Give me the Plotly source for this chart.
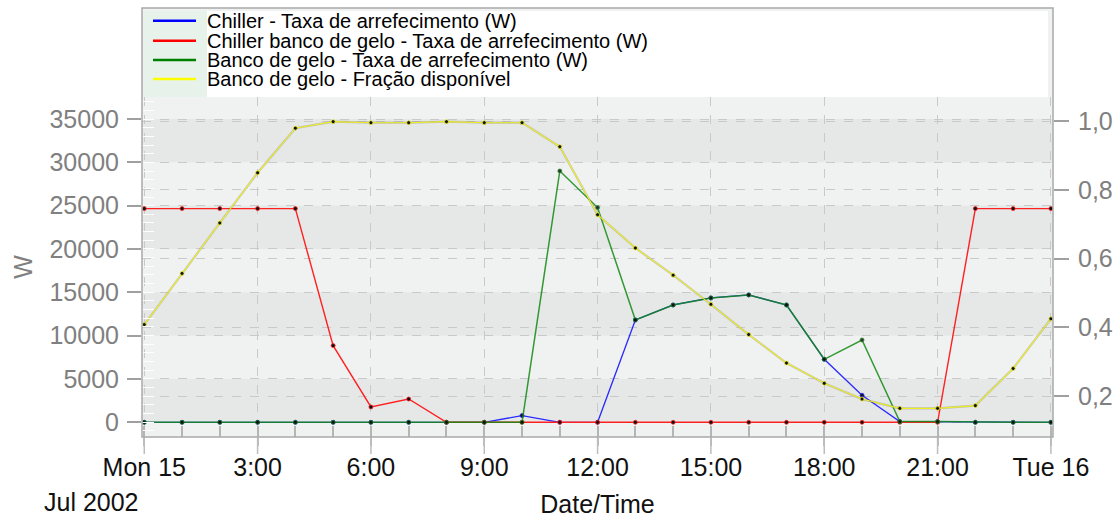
import pandas as pd
import plotly.graph_objects as go

# Hourly simulation results for 15 Jul 2002
start = "2002-07-15 00:00"
times = pd.date_range(start, periods=25, freq="h")

chiller_w = [0, 0, 0, 0, 0, 0, 0, 0, 0, 0, 770, 0, 0, 11810, 13540, 14350,
             14700, 13540, 7270, 3120, 80, 80, 0, 0, 0]
chiller_ice_w = [24660, 24660, 24660, 24660, 24660, 8850, 1770, 2690, 0, 0, 0, 0,
                 0, 0, 0, 0, 0, 0, 0, 0, 0, 0, 24660, 24660, 24660]
ice_bank_w = [0, 0, 0, 0, 0, 0, 0, 0, 0, 0, 0, 29000, 24780, 11810, 13540, 14350,
              14700, 13540, 7270, 9500, 80, 80, 0, 0, 0]
ice_fraction = [0.408, 0.557, 0.704, 0.850, 0.980, 0.999, 0.996, 0.996, 0.999,
                0.996, 0.996, 0.926, 0.728, 0.631, 0.552, 0.467, 0.379, 0.296,
                0.237, 0.191, 0.164, 0.164, 0.172, 0.280, 0.425]

series_names = [
    "Chiller - Taxa de arrefecimento (W)",
    "Chiller banco de gelo - Taxa de arrefecimento (W)",
    "Banco de gelo - Taxa de arrefecimento (W)",
    "Banco de gelo - Fração disponível",
]

x_tick_hours = [0, 3, 6, 9, 12, 15, 18, 21, 24]
x_tick_text = ["Mon 15", "3:00", "6:00", "9:00", "12:00", "15:00", "18:00", "21:00", "Tue 16"]

FONT = "Liberation Sans, Arial, sans-serif"
BG_LIGHT = "#f0f1f1"
BG_DARK = "#e6e8e8"
GRID = "#c9c9c9"
FRAME = "#a9a9a9"
TICK = "#bdbdbd"

# plot-area box in pixels, used to place the decorations drawn on paper
PL, PR, PT, PB = 142, 1053, 97, 437


def px_x(x):
    return (x - PL) / (PR - PL)


def px_y(y):
    return (PB - y) / (PB - PT)


t0 = pd.Timestamp(start)
tick_vals = [t0 + pd.Timedelta(hours=h) for h in x_tick_hours]

fig = go.Figure()

fig.add_trace(go.Scatter(x=times, y=chiller_w, mode="lines+markers",
                         line=dict(color="#2a2aff", width=1.3),
                         marker=dict(size=4, color="#111111", line=dict(color="#2a2aff", width=0.8)),
                         name=series_names[0], yaxis="y"))
fig.add_trace(go.Scatter(x=times, y=chiller_ice_w, mode="lines+markers",
                         line=dict(color="#ff2020", width=1.4),
                         marker=dict(size=4, color="#111111", line=dict(color="#ff2020", width=0.8)),
                         name=series_names[1], yaxis="y"))
fig.add_trace(go.Scatter(x=times, y=ice_bank_w, mode="lines+markers",
                         line=dict(color="#138a13", width=1.5),
                         marker=dict(size=4, color="#111111", line=dict(color="#138a13", width=0.8)),
                         opacity=0.85,
                         name=series_names[2], yaxis="y"))
# soft grey edge under the yellow line
fig.add_trace(go.Scatter(x=times, y=ice_fraction, mode="lines",
                         line=dict(color="rgba(90,90,90,0.3)", width=2.2),
                         hoverinfo="skip", showlegend=False, yaxis="y2"))
fig.add_trace(go.Scatter(x=times, y=ice_fraction, mode="lines+markers",
                         line=dict(color="#eeee22", width=1.1),
                         marker=dict(size=4, color="#111111", line=dict(color="#eeee22", width=0.8)),
                         name=series_names[3], yaxis="y2"))

shapes = []
# alternating horizontal bands between the W gridlines
for lo in [0, 10000, 20000, 30000]:
    shapes.append(dict(type="rect", xref="paper", yref="y", x0=0, x1=1, y0=lo, y1=lo + 5000,
                       fillcolor=BG_DARK, line=dict(width=0), layer="below"))

# header strip above the plot area that holds the legend
shapes.append(dict(type="rect", xref="paper", yref="paper", x0=0, x1=1, y0=1, y1=px_y(8),
                   fillcolor=BG_LIGHT, line=dict(width=0), layer="below"))
shapes.append(dict(type="rect", xref="paper", yref="paper", x0=px_x(143), x1=px_x(207),
                   y0=1, y1=px_y(11), fillcolor="#e7f3ea", line=dict(width=0), layer="below"))
shapes.append(dict(type="rect", xref="paper", yref="paper", x0=px_x(207), x1=px_x(1048),
                   y0=1, y1=px_y(11), fillcolor="#ffffff", line=dict(width=0), layer="below"))

# long outer ticks at each labelled time step, below the frame
for tv in tick_vals:
    shapes.append(dict(type="line", xref="x", yref="paper", x0=tv, x1=tv,
                       y0=px_y(PB), y1=px_y(454), line=dict(color=TICK, width=1.5)))

# outer frame
shapes.append(dict(type="rect", xref="paper", yref="paper", x0=0, x1=1, y0=0, y1=px_y(8),
                   fillcolor="rgba(0,0,0,0)", line=dict(color=FRAME, width=1.5), layer="above"))

annotations = []
legend_colors = ["#0000ff", "#ff0000", "#008000", "#ffff00"]
legend_rows = [20.7, 40.7, 60.0, 79.0]
for name, color, row in zip(series_names, legend_colors, legend_rows):
    shapes.append(dict(type="line", xref="paper", yref="paper", x0=px_x(153), x1=px_x(196),
                       y0=px_y(row), y1=px_y(row), line=dict(color=color, width=2.6)))
    annotations.append(dict(text=name, xref="paper", yref="paper", x=px_x(205), y=px_y(row + 0.5),
                            xanchor="left", yanchor="middle", showarrow=False,
                            font=dict(family=FONT, size=20, color="#000000")))

annotations.append(dict(text="Jul 2002", xref="paper", yref="paper", x=px_x(91), y=px_y(502),
                        xanchor="center", yanchor="middle", showarrow=False,
                        font=dict(family=FONT, size=25, color="#111111")))

fig.update_layout(
    width=1118, height=518,
    margin=dict(l=PL, r=1118 - PR, t=PT, b=518 - PB, pad=0),
    paper_bgcolor="#ffffff",
    plot_bgcolor=BG_LIGHT,
    separators=",.",
    showlegend=False,
    font=dict(family=FONT),
    shapes=shapes,
    annotations=annotations,
    xaxis=dict(
        type="date",
        range=[t0 - pd.Timedelta(seconds=216), t0 + pd.Timedelta(hours=24, seconds=200)],
        tickmode="array", tickvals=tick_vals, ticktext=x_tick_text,
        ticks="outside", ticklen=8, tickwidth=1.5, tickcolor=TICK,
        tickfont=dict(family=FONT, size=25, color="#111111"),
        showgrid=True, gridcolor=GRID, griddash="dash", gridwidth=1,
        minor=dict(ticks="inside", ticklen=11, tickwidth=1.5, tickcolor="#b5b5b5",
                   dtick=3600000, tick0=t0, showgrid=False),
        showline=False, zeroline=False, automargin=False,
        title=dict(text="Date/Time", font=dict(family=FONT, size=25, color="#111111"), standoff=19),
    ),
    yaxis=dict(
        range=[-1697, 37540],
        tick0=0, dtick=5000, tickformat="d",
        ticks="outside", ticklen=14, tickwidth=1.5, tickcolor="#a0a0a0",
        ticklabelstandoff=3,
        tickfont=dict(family=FONT, size=25, color="#808080"),
        showgrid=True, gridcolor=GRID, griddash="dash", gridwidth=1,
        minor=dict(ticks="inside", ticklen=12, tickwidth=1, tickcolor="#ffffff",
                   dtick=1000, showgrid=False),
        showline=False, zeroline=False, automargin=False,
        title=dict(text="W", font=dict(family=FONT, size=25, color="#808080"), standoff=9),
    ),
    yaxis2=dict(
        overlaying="y", side="right",
        range=[0.0806, 1.0708],
        tick0=0, dtick=0.2, tickformat=".1f",
        ticks="outside", ticklen=15, tickwidth=1.5, tickcolor="#a0a0a0",
        ticklabelstandoff=4,
        tickfont=dict(family=FONT, size=25, color="#808080"),
        showgrid=True, gridcolor=GRID, griddash="dash", gridwidth=1,
        showline=False, zeroline=False, automargin=False,
    ),
)

fig.write_html("out.html")
